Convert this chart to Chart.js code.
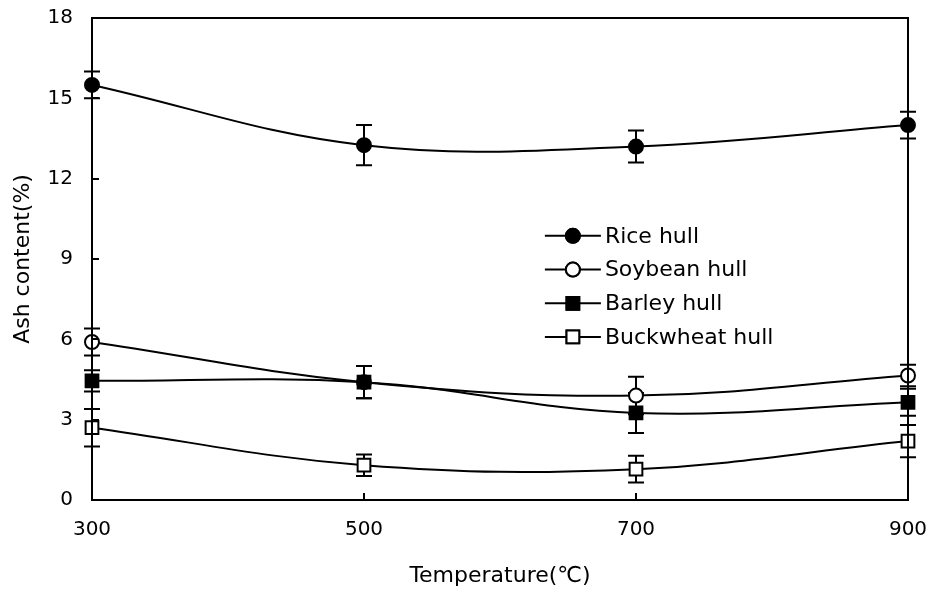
<!DOCTYPE html>
<html>
<head>
<meta charset="utf-8">
<script src="https://cdn.jsdelivr.net/npm/chart.js@4"></script>
<style>
  html, body { margin: 0; padding: 0; background: #fff; }
  #wrap { width: 933px; height: 589px; }
</style>
</head>
<body>
<div id="wrap"><canvas id="ashChart" width="933" height="589"></canvas></div>
<script>
// temperatures (x) and ash content (%) with error bars
var temps = [300, 500, 700, 900];
var riceHull = [15.5, 13.25, 13.2, 14.0];
var riceErr = [0.5, 0.75, 0.6, 0.5];
var soybeanHull = [5.9, 4.4, 3.9, 4.65];
var soybeanErr = [0.5, 0.6, 0.7, 0.4];
var barleyHull = [4.45, 4.4, 3.25, 3.65];
var barleyErr = [0.4, 0.6, 0.75, 0.5];
var buckwheatHull = [2.7, 1.3, 1.15, 2.2];
var buckwheatErr = [0.7, 0.4, 0.5, 0.6];
var yTicks = [0, 3, 6, 9, 12, 15, 18];
var xTicks = [300, 500, 700, 900];

var FONT = "'DejaVu Sans', 'Noto Sans CJK KR', sans-serif";

function pts(vals) {
    return temps.map(function (t, i) { return { x: t, y: vals[i] }; });
}

function series(label, vals, errs, style, fill, radius, order) {
    return {
        label: label,
        data: pts(vals),
        errors: errs,
        order: order,
        borderColor: '#000',
        borderWidth: 2,
        pointStyle: style,
        pointRadius: radius,
        pointBackgroundColor: fill,
        pointBorderColor: '#000',
        pointBorderWidth: 2,
        tension: 0.38,
        clip: false
    };
}

// error bars, drawn under the markers
var errorBars = {
    id: 'errorBars',
    beforeDatasetsDraw: function (chart) {
        var ctx = chart.ctx, xs = chart.scales.x, ys = chart.scales.y;
        ctx.save();
        ctx.strokeStyle = '#000';
        ctx.lineWidth = 2;
        chart.data.datasets.forEach(function (ds) {
            ds.data.forEach(function (p, i) {
                var e = ds.errors[i];
                var px = Math.round(xs.getPixelForValue(p.x));
                var top = ys.getPixelForValue(p.y + e);
                var bot = ys.getPixelForValue(p.y - e);
                ctx.beginPath();
                ctx.moveTo(px, top); ctx.lineTo(px, bot);
                ctx.moveTo(px - 8, top); ctx.lineTo(px + 8, top);
                ctx.moveTo(px - 8, bot); ctx.lineTo(px + 8, bot);
                ctx.stroke();
            });
        });
        ctx.restore();
    }
};

// frame, inward ticks and in-plot legend
var frame = {
    id: 'frame',
    afterDraw: function (chart) {
        var ctx = chart.ctx, a = chart.chartArea;
        var xs = chart.scales.x, ys = chart.scales.y;
        ctx.save();
        ctx.strokeStyle = '#000';
        ctx.lineWidth = 2;
        ctx.strokeRect(a.left, a.top, a.right - a.left, a.bottom - a.top);
        ctx.beginPath();
        yTicks.forEach(function (v) {
            var py = Math.round(ys.getPixelForValue(v));
            ctx.moveTo(a.left, py); ctx.lineTo(a.left + 7, py);
        });
        xTicks.forEach(function (v) {
            var px = Math.round(xs.getPixelForValue(v));
            ctx.moveTo(px, a.bottom); ctx.lineTo(px, a.bottom - 7);
        });
        ctx.stroke();

        var lx = a.left + (a.right - a.left) * 0.555;
        var ly = a.top + (a.bottom - a.top) * 0.452;
        var step = 33.7;
        ctx.font = '22px ' + FONT;
        ctx.textBaseline = 'middle';
        chart.data.datasets.forEach(function (ds, i) {
            var y = ly + i * step;
            ctx.beginPath();
            ctx.moveTo(lx, y); ctx.lineTo(lx + 56, y);
            ctx.lineWidth = 2;
            ctx.stroke();
            Chart.helpers.drawPoint(ctx, {
                pointStyle: ds.pointStyle, radius: ds.pointRadius, rotation: 0, borderWidth: 2
            }, lx + 28, y);
            ctx.fillStyle = ds.pointBackgroundColor;
            ctx.fill();
            ctx.stroke();
            ctx.fillStyle = '#000';
            ctx.fillText(ds.label, lx + 60, y + 1);
        });
        ctx.restore();
    }
};

new Chart(document.getElementById('ashChart').getContext('2d'), {
    type: 'line',
    data: {
        datasets: [
            series('Rice hull', riceHull, riceErr, 'circle', '#000', 7, 0),
            series('Soybean hull', soybeanHull, soybeanErr, 'circle', '#fff', 7, 2),
            series('Barley hull', barleyHull, barleyErr, 'rect', '#000', 9, 1),
            series('Buckwheat hull', buckwheatHull, buckwheatErr, 'rect', '#fff', 9, 3)
        ]
    },
    options: {
        responsive: false,
        animation: false,
        layout: { padding: { left: 0, right: 25, top: 18, bottom: 0 } },
        scales: {
            x: {
                type: 'linear',
                min: 300,
                max: 900,
                afterBuildTicks: function (s) { s.ticks = xTicks.map(function (v) { return { value: v }; }); },
                afterFit: function (s) { s.height = 89; s.paddingLeft = 0; s.paddingRight = 0; },
                grid: { display: false, drawTicks: false },
                border: { display: false },
                ticks: { color: '#000', padding: 18, font: { size: 20, family: FONT } },
                title: { display: true, text: 'Temperature(℃)', color: '#000', padding: { top: 8, bottom: 0 }, font: { size: 22, family: FONT } }
            },
            y: {
                min: 0,
                max: 18,
                afterBuildTicks: function (s) { s.ticks = yTicks.map(function (v) { return { value: v }; }); },
                afterFit: function (s) { s.width = 92; s.paddingTop = 0; s.paddingBottom = 0; },
                grid: { display: false, drawTicks: false },
                border: { display: false },
                ticks: { color: '#000', padding: 19, font: { size: 20, family: FONT } },
                title: { display: true, text: 'Ash content(%)', color: '#000', padding: { top: 10, bottom: 4 }, font: { size: 22, family: FONT } }
            }
        },
        plugins: {
            legend: { display: false },
            tooltip: { enabled: false }
        }
    },
    plugins: [errorBars, frame]
});
</script>
</body>
</html>
